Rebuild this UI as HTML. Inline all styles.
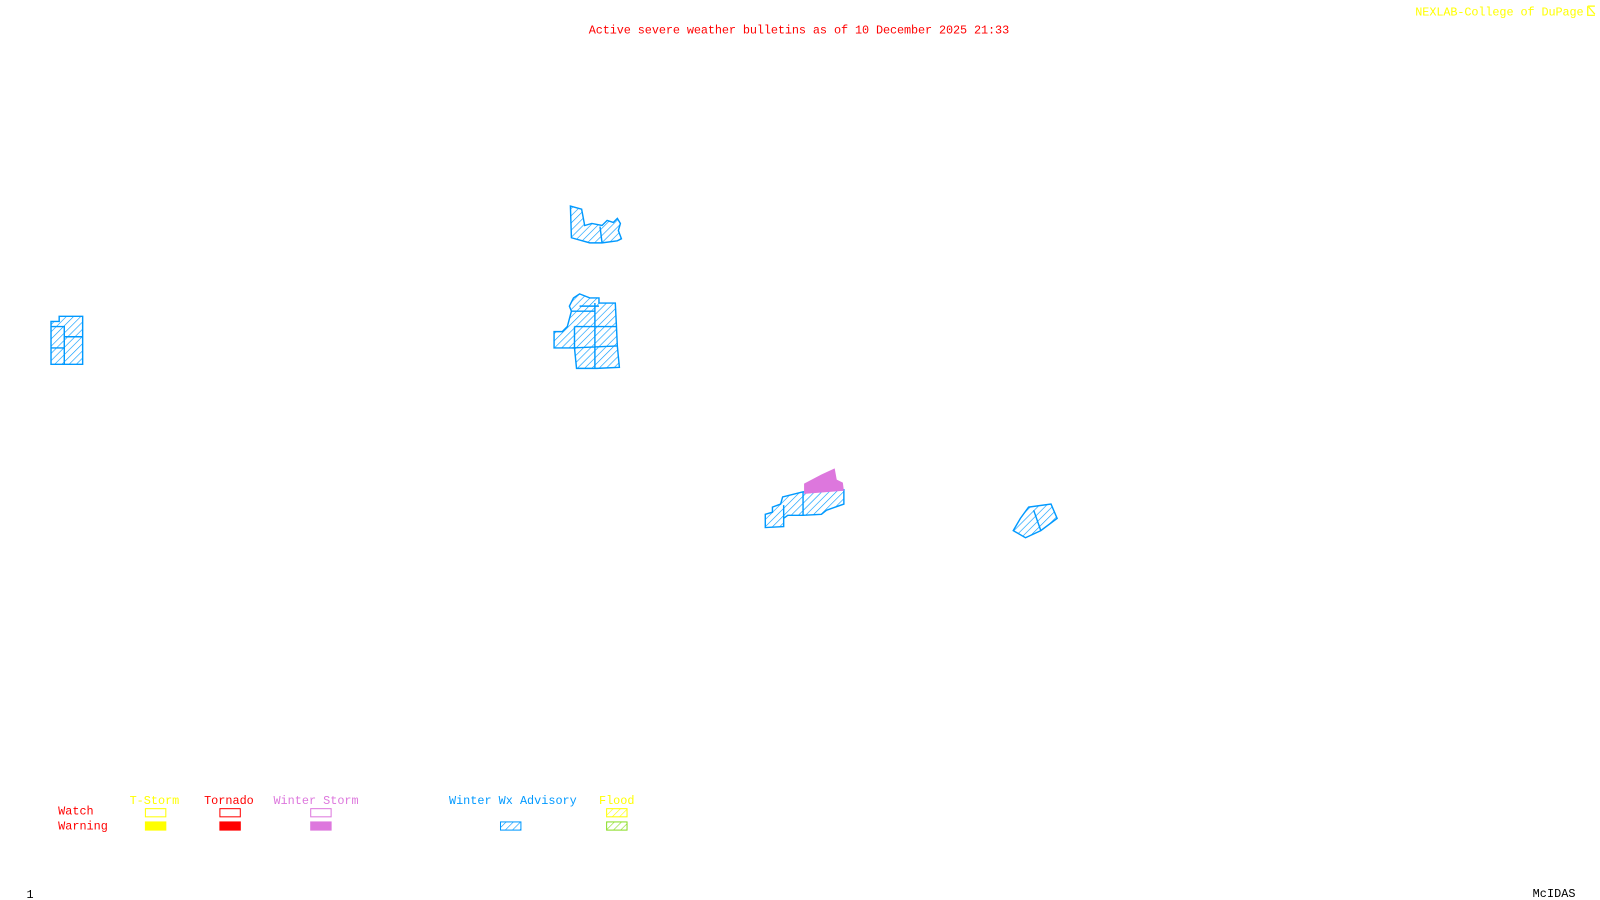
<!DOCTYPE html>
<html><head><style>
html,body{margin:0;padding:0;background:#fff;width:1600px;height:900px;overflow:hidden}
svg{position:absolute;left:0;top:0}
text{font-family:"Liberation Mono",monospace;font-size:11.6px}
</style></head><body>
<svg width="1600" height="900" xmlns="http://www.w3.org/2000/svg">
<defs>
<pattern id="hb" width="5" height="5" patternUnits="userSpaceOnUse" patternTransform="rotate(45)">
<rect width="5" height="5" fill="#fff"/><line x1="0" y1="0" x2="0" y2="5" stroke="#0099ff" stroke-width="1.2"/></pattern>
<pattern id="hy" width="5" height="5" patternUnits="userSpaceOnUse" patternTransform="rotate(45)">
<rect width="5" height="5" fill="#fff"/><line x1="0" y1="0" x2="0" y2="5" stroke="#ffff00" stroke-width="1.2"/></pattern>
<pattern id="hg" width="5" height="5" patternUnits="userSpaceOnUse" patternTransform="rotate(45)">
<rect width="5" height="5" fill="#fff"/><line x1="0" y1="0" x2="0" y2="5" stroke="#88dd22" stroke-width="1.2"/></pattern>
</defs>
<g transform="scale(1.0204)">
<text x="577" y="33" fill="#ff0000" textLength="412">Active severe weather bulletins as of 10 December 2025 21:33</text>
<text x="1387" y="15" fill="#ffff00" textLength="165">NEXLAB-College of DuPage</text>
<path d="M1556 6 L1556 15 L1563 15 M1556 6 L1563 6 M1557 7 L1563 14" fill="none" stroke="#ffff00" stroke-width="1.2"/>
<text x="26" y="880" fill="#000">1</text>
<text x="1502" y="879" fill="#000" textLength="42">McIDAS</text>

<g fill="url(#hb)" stroke="#0099ff" stroke-width="1.4">
<path d="M50 315 L58 315 L58 310 L81 310 L81 357 L50 357 Z"/>
<path d="M50 320 L63 320 L63 357 M50 341 L63 341 M63 330 L81 330" fill="none"/>
<path d="M570 205 L559 202 L560 233 L578 238 L590 238 L605 236 L609 234 L606 226 L608 219 L605 214 L601 218 L595 216 L590 221 L580 219 L573 221 Z"/>
<path d="M588 222 L590 238" fill="none"/>
<path d="M562 292 L568 288 L578 292 L587 292 L587 297 L603 297 L604 317 L605 339 L607 360 L585 361 L565 361 L563 341 L543 341 L543 325 L551 325 L556 320 L560 305 L558 300 Z"/>
<path d="M560 305 L583 305 M583 297 L583 361 M563 320 L604 320 M561 341 L605 339 M563 320 L563 341 M568 300 L587 300" fill="none"/>
<path d="M787 482 L827 480 L827 494 L810 500 L805 504 L787 505 L772 505 L768 508 L768 516 L750 517 L750 504 L757 502 L757 497 L765 494 L767 487 Z"/>
<path d="M787 482 L787 505 M768 495 L768 508" fill="none"/>
<path d="M1008 497 L1030 494 L1036 508 L1020 520 L1005 527 L993 520 L1000 508 Z"/>
<path d="M1013 500 L1020 520" fill="none"/>
</g>
<path d="M788 484 L788 474 L805 465 L818 459 L820 470 L826 473 L827 481 Z" fill="#dd77dd"/>

<text x="127" y="788" fill="#ffff00">T-Storm</text>
<text x="200" y="788" fill="#ff0000">Tornado</text>
<text x="268" y="788" fill="#dd77dd">Winter Storm</text>
<text x="440" y="788" fill="#0099ff">Winter Wx Advisory</text>
<text x="587" y="788" fill="#ffff00">Flood</text>
<text x="57" y="798" fill="#ff0000">Watch</text>
<text x="57" y="813" fill="#ff0000">Warning</text>
<rect x="142.5" y="792.5" width="20" height="8" fill="none" stroke="#ffff00"/>
<rect x="215.5" y="792.5" width="20" height="8" fill="none" stroke="#ff0000"/>
<rect x="304.5" y="792.5" width="20" height="8" fill="none" stroke="#dd77dd"/>
<rect x="594.5" y="792.5" width="20" height="8" fill="url(#hy)" stroke="#ffff00"/>
<rect x="142" y="805" width="21" height="9" fill="#ffff00"/>
<rect x="215" y="805" width="21" height="9" fill="#ff0000"/>
<rect x="304" y="805" width="21" height="9" fill="#dd77dd"/>
<rect x="490.5" y="805.5" width="20" height="8" fill="url(#hb)" stroke="#0099ff"/>
<rect x="594.5" y="805.5" width="20" height="8" fill="url(#hg)" stroke="#88dd22"/>
</g>
</svg>
</body></html>
